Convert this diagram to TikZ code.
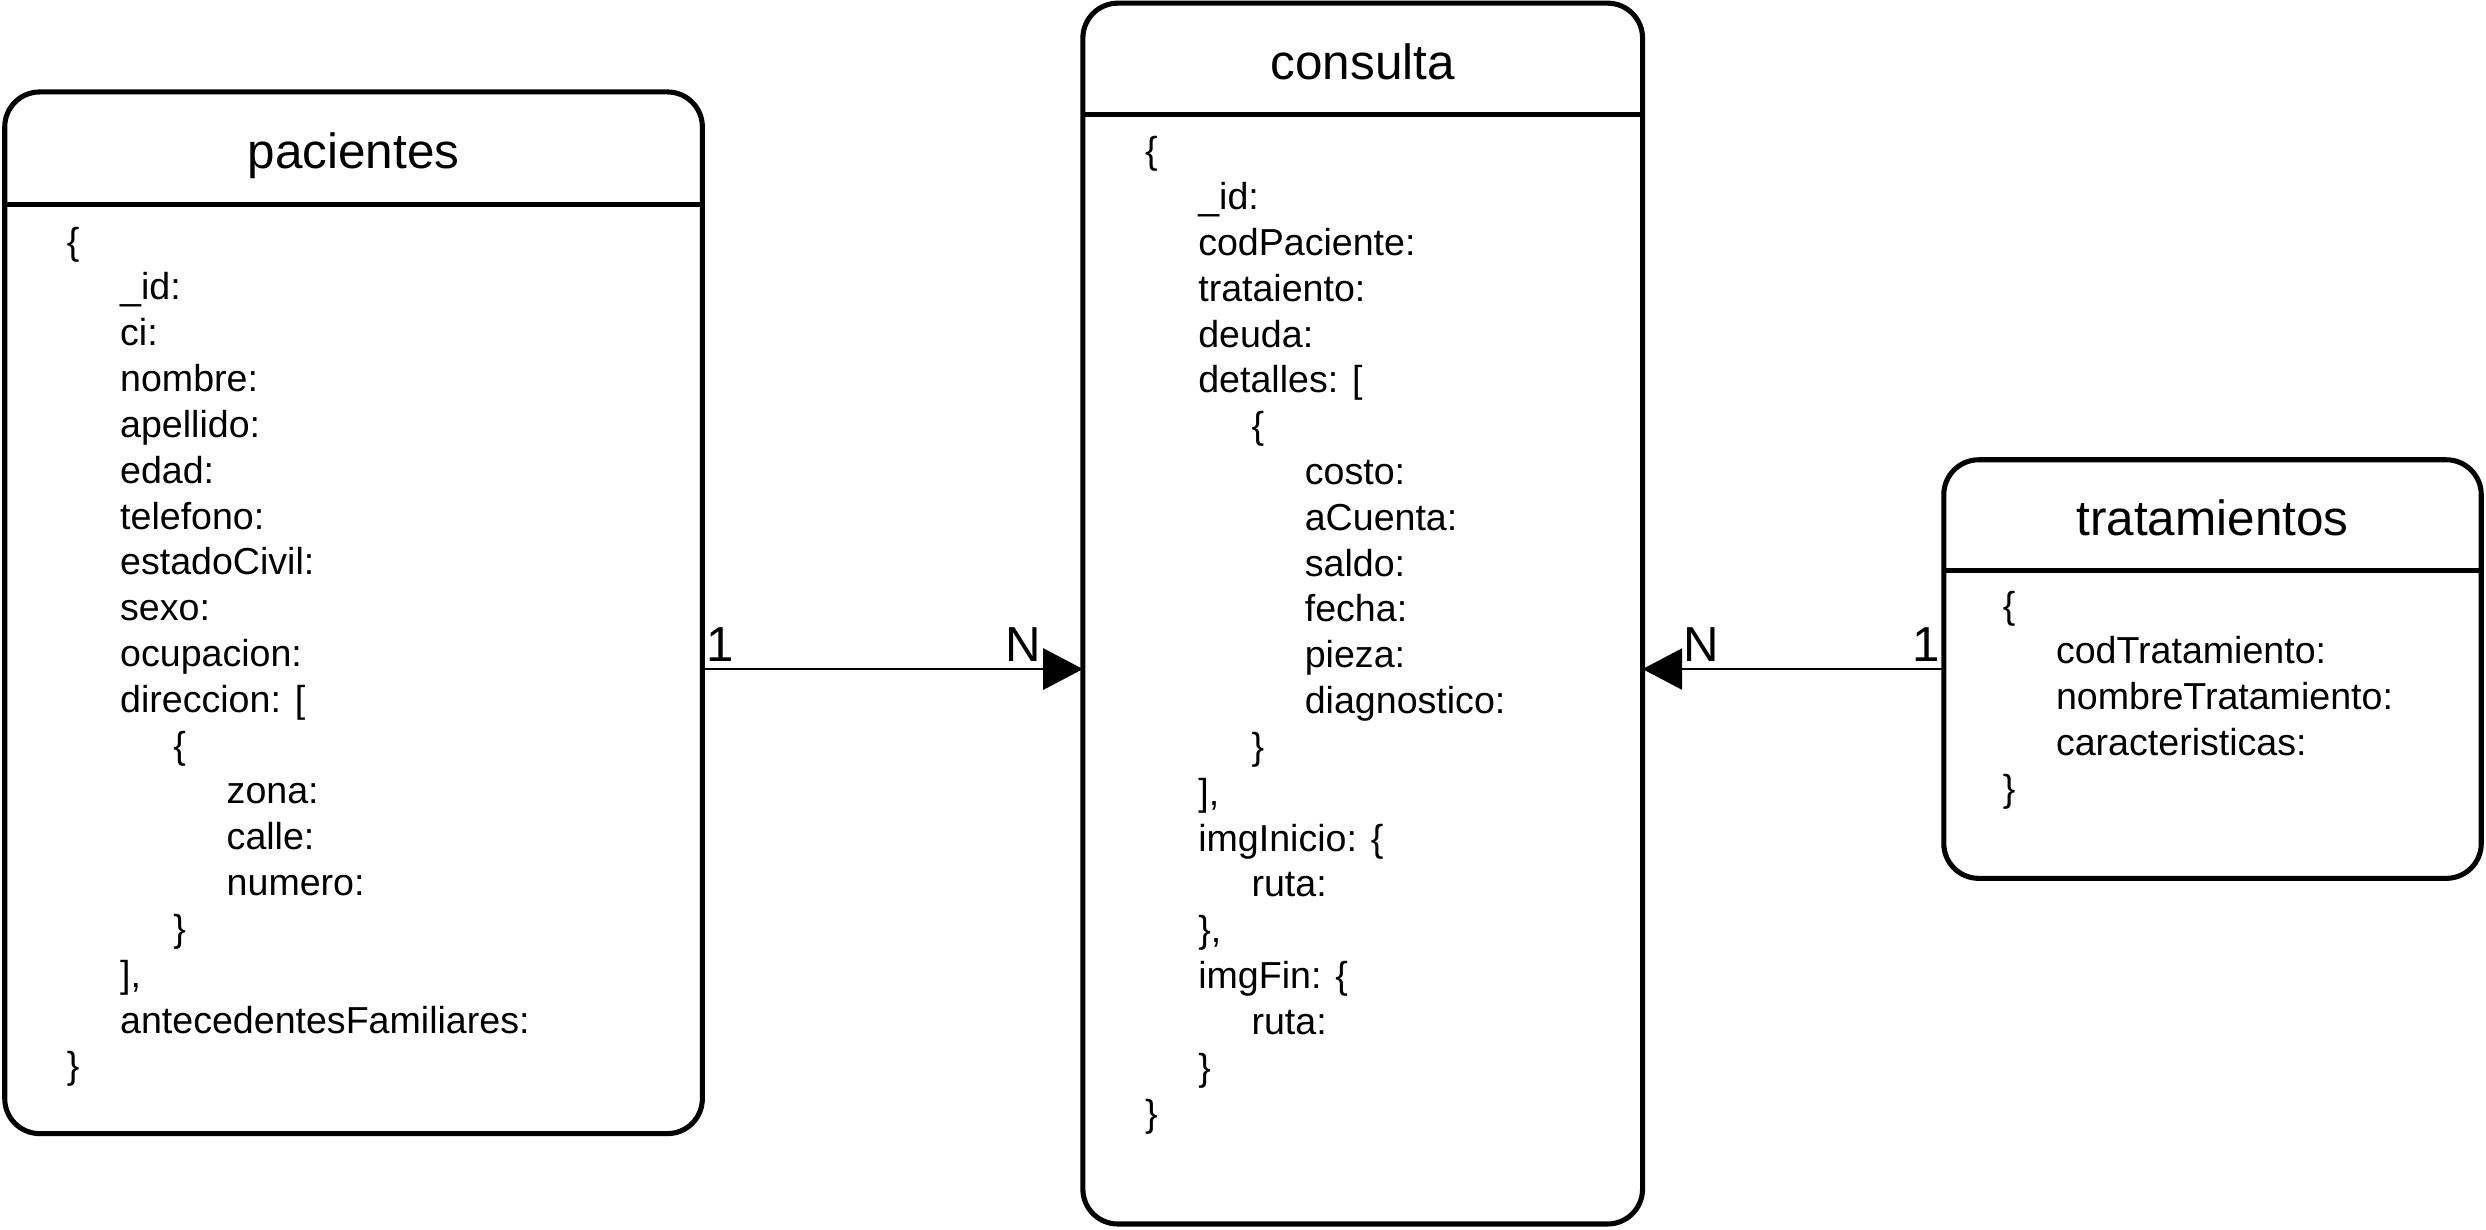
\documentclass[tikz,border=0pt]{standalone}
\usepackage{fontspec}
\setmainfont{Liberation Sans}
\usetikzlibrary{arrows.meta}
\tikzset{
  entity/.style={draw=black, line width=3.2pt, rounded corners=22pt, rectangle, inner sep=0pt, outer sep=0pt, fill=white},
  sepline/.style={draw=black, line width=3.2pt},
  rel/.style={draw=black, line width=1.2pt, -{Triangle[length=25pt,width=26pt]}},
  titletext/.style={inner sep=0pt, font=\fontsize{31.2}{37}\selectfont, anchor=base},
  fieldtext/.style={inner sep=0pt, font=\fontsize{23.7}{28.9}\selectfont, anchor=base west},
  cardtext/.style={inner sep=0pt, font=\fontsize{31}{37}\selectfont},
}
\newcommand\entlines[4]{%
  \foreach[count=\i from 0] \lv/\tx in {#4} {
    \node[fieldtext] (#1\i) at ({#2+\lv*33.6}, {#3+\i*28.9}) {\tx};
  }}
\begin{document}
\begin{tikzpicture}[x=1pt,y=-1pt]
\path[fill=white] (0,0) rectangle (1568,775.8);
\useasboundingbox (0,0) rectangle (1568,775.8);

% entities
\node[entity, minimum width=440pt, minimum height=657pt] (pac) at (223,386.5) {};
\node[entity, minimum width=353pt, minimum height=770pt] (con) at (859.5,387) {};
\node[entity, minimum width=339pt, minimum height=264pt] (tra) at (1395.5,422) {};

\coordinate (pacsep) at (0,129);
\coordinate (consep) at (0,72);
\coordinate (trasep) at (0,360);
\draw[sepline] (pac.west |- pacsep) -- (pac.east |- pacsep);
\draw[sepline] (con.west |- consep) -- (con.east |- consep);
\draw[sepline] (tra.west |- trasep) -- (tra.east |- trasep);

% titles
\node[titletext] (pactitle) at (223,106) {pacientes};
\node[titletext] (contitle) at (859.5,50) {consulta};
\node[titletext] (tratitle) at (1395.5,338) {tratamientos};

% fields
\entlines{pf}{42}{160.3}{0/\{, 1/\_id:, 1/ci:, 1/nombre:, 1/apellido:, 1/edad:, 1/telefono:, 1/estadoCivil:, 1/sexo:, 1/ocupacion:, 1/{direccion: [}, 2/\{, 3/zona:, 3/calle:, 3/numero:, 2/\}, 1/{],}, 1/antecedentesFamiliares:, 0/\}}
\entlines{cf}{722}{103.3}{0/\{, 1/\_id:, 1/codPaciente:, 1/trataiento:, 1/deuda:, 1/{detalles: [}, 2/\{, 3/costo:, 3/aCuenta:, 3/saldo:, 3/fecha:, 3/pieza:, 3/diagnostico:, 2/\}, 1/{],}, 1/{imgInicio: \{}, 2/ruta:, 1/{\},}, 1/{imgFin: \{}, 2/ruta:, 1/\}, 0/\}}
\entlines{tf}{1263}{389.8}{0/\{, 1/codTratamiento:, 1/nombreTratamiento:, 1/caracteristicas:, 0/\}}

% relationships
\coordinate (rely) at (0,422);
\draw[rel] (pac.east |- rely) -- (con.west |- rely);
\draw[rel] (tra.west |- rely) -- (con.east |- rely);

\node[cardtext, anchor=base west] (c1a) at (445.5,417) {1};
\node[cardtext, anchor=base east] (cna) at (656.5,417) {N};
\node[cardtext, anchor=base west] (cnb) at (1061.6,417) {N};
\node[cardtext, anchor=base east] (c1b) at (1223.7,417) {1};
\end{tikzpicture}
\end{document}
